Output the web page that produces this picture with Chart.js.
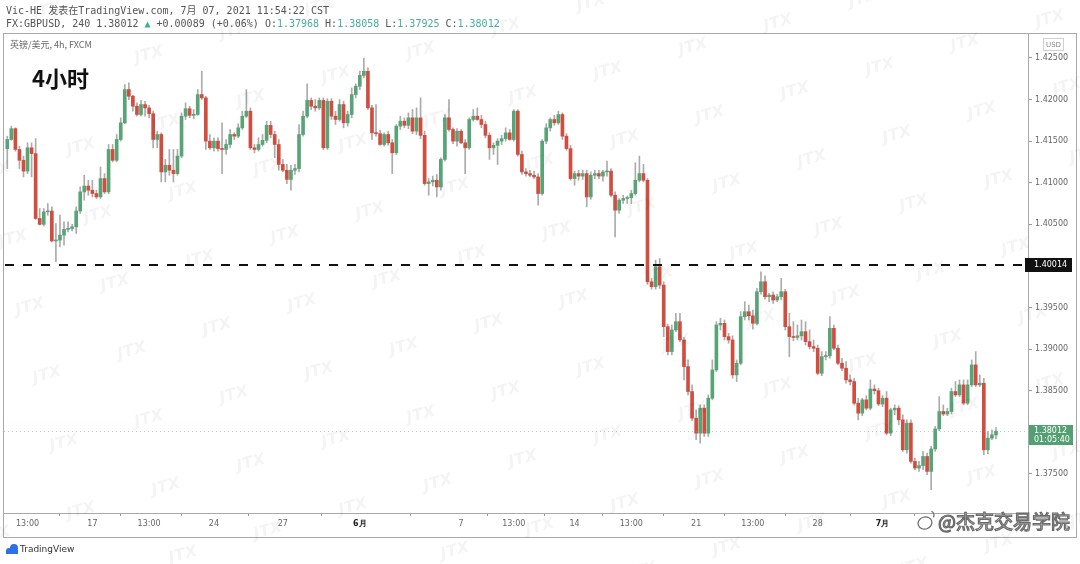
<!DOCTYPE html>
<html>
<head>
<meta charset="utf-8">
<script src="https://cdn.jsdelivr.net/npm/chart.js@4.4.0/dist/chart.umd.min.js"></script>
<style>
  html, body { margin: 0; padding: 0; background: #fff; }
  #wrap { width: 1080px; height: 564px; position: relative; }
</style>
</head>
<body>
<div id="wrap"><canvas id="chart" width="1080" height="564"></canvas></div>
<script>
// GBPUSD 4h candles (FXCM)
const opens = [
  1.4141,1.4152,1.4165,1.4140,1.4127,1.4114,1.4142,1.4135,1.4057,1.4050,
  1.4065,1.4066,1.4030,1.4031,1.4037,1.4044,1.4045,1.4047,1.4066,1.4089,
  1.4096,1.4091,1.4087,1.4083,1.4105,1.4089,1.4140,1.4127,1.4152,1.4172,
  1.4212,1.4204,1.4192,1.4182,1.4194,1.4190,1.4183,1.4152,1.4158,1.4113,
  1.4121,1.4115,1.4111,1.4132,1.4180,1.4189,1.4181,1.4182,1.4206,1.4202,
  1.4150,1.4142,1.4150,1.4141,1.4140,1.4146,1.4158,1.4156,1.4166,1.4180,
  1.4186,1.4142,1.4140,1.4146,1.4151,1.4169,1.4158,1.4146,1.4122,1.4115,
  1.4104,1.4115,1.4117,1.4158,1.4180,1.4199,1.4192,1.4190,1.4199,1.4142,
  1.4198,1.4180,1.4176,1.4194,1.4172,1.4182,1.4206,1.4216,1.4229,1.4234,
  1.4190,1.4160,1.4159,1.4146,1.4158,1.4148,1.4136,1.4168,1.4174,1.4169,
  1.4178,1.4162,1.4178,1.4157,1.4099,1.4101,1.4103,1.4095,1.4128,1.4178,
  1.4164,1.4150,1.4162,1.4148,1.4142,1.4176,1.4180,1.4176,1.4170,1.4157,
  1.4142,1.4145,1.4150,1.4153,1.4160,1.4152,1.4186,1.4134,1.4113,1.4111,
  1.4109,1.4107,1.4087,1.4150,1.4166,1.4176,1.4172,1.4182,1.4156,1.4141,
  1.4105,1.4111,1.4108,1.4111,1.4083,1.4109,1.4111,1.4108,1.4113,1.4114,
  1.4085,1.4067,1.4079,1.4081,1.4082,1.4087,1.4103,1.4111,1.4103,1.3981,
  1.3975,1.3999,1.3977,1.3927,1.3897,1.3923,1.3933,1.3911,1.3879,1.3849,
  1.3817,1.3799,1.3829,1.3799,1.3841,1.3875,1.3929,1.3931,1.3915,1.3911,
  1.3869,1.3883,1.3939,1.3945,1.3940,1.3931,1.3969,1.3981,1.3963,1.3965,
  1.3959,1.3963,1.3969,1.3927,1.3915,1.3914,1.3916,1.3921,1.3909,1.3903,
  1.3901,1.3871,1.3891,1.3892,1.3925,1.3901,1.3883,1.3877,1.3863,1.3861,
  1.3835,1.3823,1.3839,1.3829,1.3852,1.3850,1.3834,1.3841,1.3799,1.3827,
  1.3829,1.3815,1.3779,1.3811,1.3765,1.3757,1.3760,1.3771,1.3753,1.3780,
  1.3804,1.3825,1.3822,1.3825,1.3849,1.3845,1.3857,1.3835,1.3857,1.3881,
  1.3857,1.3859,1.3779,1.3793,1.37968
];
const highs = [
  1.4156,1.4168,1.4166,1.4144,1.4132,1.4148,1.4148,1.4153,1.4069,1.4069,
  1.4075,1.4071,1.4051,1.4061,1.4053,1.4053,1.4050,1.4071,1.4095,1.4109,
  1.4103,1.4103,1.4091,1.4119,1.4111,1.4146,1.4146,1.4158,1.4178,1.4218,
  1.4220,1.4205,1.4196,1.4199,1.4198,1.4193,1.4186,1.4162,1.4160,1.4128,
  1.4140,1.4140,1.4140,1.4184,1.4196,1.4192,1.4188,1.4212,1.4234,1.4204,
  1.4158,1.4154,1.4154,1.4172,1.4152,1.4164,1.4160,1.4171,1.4186,1.4212,
  1.4190,1.4146,1.4154,1.4158,1.4174,1.4174,1.4162,1.4152,1.4128,1.4122,
  1.4121,1.4122,1.4170,1.4186,1.4219,1.4202,1.4200,1.4202,1.4202,1.4201,
  1.4201,1.4186,1.4200,1.4198,1.4186,1.4214,1.4219,1.4234,1.4250,1.4238,
  1.4193,1.4194,1.4163,1.4160,1.4162,1.4152,1.4170,1.4180,1.4178,1.4184,
  1.4188,1.4190,1.4202,1.4162,1.4105,1.4108,1.4110,1.4130,1.4182,1.4200,
  1.4166,1.4165,1.4164,1.4152,1.4178,1.4188,1.4190,1.4181,1.4174,1.4160,
  1.4148,1.4153,1.4157,1.4166,1.4164,1.4188,1.4188,1.4138,1.4117,1.4115,
  1.4114,1.4111,1.4152,1.4171,1.4178,1.4181,1.4186,1.4184,1.4159,1.4145,
  1.4114,1.4115,1.4115,1.4115,1.4113,1.4115,1.4115,1.4115,1.4126,1.4117,
  1.4089,1.4081,1.4085,1.4084,1.4091,1.4124,1.4132,1.4122,1.4105,1.3985,
  1.4007,1.4009,1.3981,1.3930,1.3929,1.3943,1.3943,1.3914,1.3887,1.3857,
  1.3827,1.3833,1.3833,1.3845,1.3887,1.3933,1.3937,1.3935,1.3919,1.3916,
  1.3887,1.3945,1.3957,1.3953,1.3947,1.3973,1.3993,1.3988,1.3967,1.3969,
  1.3966,1.3985,1.3972,1.3943,1.3933,1.3929,1.3935,1.3933,1.3923,1.3911,
  1.3905,1.3897,1.3897,1.3939,1.3929,1.3905,1.3889,1.3885,1.3869,1.3865,
  1.3841,1.3841,1.3844,1.3863,1.3857,1.3853,1.3844,1.3849,1.3829,1.3833,
  1.3832,1.3821,1.3815,1.3815,1.3769,1.3765,1.3777,1.3775,1.3783,1.3807,
  1.3843,1.3833,1.3829,1.3853,1.3861,1.3863,1.3863,1.3863,1.3887,1.3897,
  1.3869,1.3865,1.3801,1.3803,1.38058
];
const lows = [
  1.4117,1.4151,1.4138,1.4117,1.4107,1.4111,1.4107,1.4056,1.4049,1.4048,
  1.4061,1.4029,1.4005,1.4023,1.4025,1.4041,1.4042,1.4039,1.4063,1.4079,
  1.4085,1.4083,1.4081,1.4081,1.4087,1.4087,1.4125,1.4125,1.4150,1.4171,
  1.4200,1.4186,1.4180,1.4180,1.4180,1.4178,1.4142,1.4142,1.4101,1.4101,
  1.4109,1.4101,1.4109,1.4130,1.4176,1.4178,1.4177,1.4181,1.4200,1.4140,
  1.4140,1.4138,1.4138,1.4111,1.4134,1.4142,1.4152,1.4154,1.4164,1.4178,
  1.4140,1.4136,1.4138,1.4144,1.4148,1.4154,1.4130,1.4115,1.4113,1.4099,
  1.4091,1.4110,1.4113,1.4156,1.4178,1.4188,1.4186,1.4188,1.4140,1.4140,
  1.4176,1.4170,1.4174,1.4166,1.4168,1.4178,1.4202,1.4212,1.4226,1.4188,
  1.4152,1.4156,1.4145,1.4144,1.4145,1.4111,1.4134,1.4164,1.4166,1.4165,
  1.4159,1.4158,1.4153,1.4097,1.4085,1.4096,1.4083,1.4091,1.4126,1.4162,
  1.4147,1.4144,1.4147,1.4111,1.4140,1.4174,1.4175,1.4166,1.4154,1.4128,
  1.4134,1.4122,1.4146,1.4150,1.4151,1.4150,1.4132,1.4110,1.4108,1.4107,
  1.4105,1.4073,1.4085,1.4147,1.4162,1.4169,1.4170,1.4152,1.4139,1.4103,
  1.4097,1.4103,1.4104,1.4071,1.4080,1.4105,1.4105,1.4102,1.4108,1.4083,
  1.4035,1.4063,1.4075,1.4075,1.4075,1.4085,1.4101,1.4101,1.3978,1.3972,
  1.3972,1.3973,1.3915,1.3893,1.3893,1.3921,1.3909,1.3863,1.3845,1.3814,
  1.3791,1.3787,1.3795,1.3795,1.3839,1.3873,1.3923,1.3911,1.3907,1.3865,
  1.3861,1.3881,1.3935,1.3935,1.3924,1.3929,1.3966,1.3960,1.3957,1.3955,
  1.3957,1.3959,1.3923,1.3891,1.3910,1.3911,1.3911,1.3905,1.3900,1.3897,
  1.3869,1.3868,1.3887,1.3889,1.3899,1.3881,1.3874,1.3859,1.3857,1.3833,
  1.3815,1.3820,1.3827,1.3827,1.3846,1.3832,1.3831,1.3797,1.3796,1.3821,
  1.3809,1.3777,1.3775,1.3763,1.3755,1.3753,1.3755,1.3749,1.3731,1.3777,
  1.3802,1.3820,1.3820,1.3822,1.3843,1.3843,1.3833,1.3833,1.3855,1.3855,
  1.3855,1.3773,1.3774,1.3791,1.37925
];
const closes = [
  1.4152,1.4165,1.4140,1.4127,1.4114,1.4142,1.4135,1.4057,1.4050,1.4065,
  1.4066,1.4030,1.4031,1.4037,1.4044,1.4045,1.4047,1.4066,1.4089,1.4096,
  1.4091,1.4087,1.4083,1.4105,1.4089,1.4140,1.4127,1.4152,1.4172,1.4212,
  1.4204,1.4192,1.4182,1.4194,1.4190,1.4183,1.4152,1.4158,1.4113,1.4121,
  1.4115,1.4111,1.4132,1.4180,1.4189,1.4181,1.4182,1.4206,1.4202,1.4150,
  1.4142,1.4150,1.4141,1.4140,1.4146,1.4158,1.4156,1.4166,1.4180,1.4186,
  1.4142,1.4140,1.4146,1.4151,1.4169,1.4158,1.4146,1.4122,1.4115,1.4104,
  1.4115,1.4117,1.4158,1.4180,1.4199,1.4192,1.4190,1.4199,1.4142,1.4198,
  1.4180,1.4176,1.4194,1.4172,1.4182,1.4206,1.4216,1.4229,1.4234,1.4190,
  1.4160,1.4159,1.4146,1.4158,1.4148,1.4136,1.4168,1.4174,1.4169,1.4178,
  1.4162,1.4178,1.4157,1.4099,1.4101,1.4103,1.4095,1.4128,1.4178,1.4164,
  1.4150,1.4162,1.4148,1.4142,1.4176,1.4180,1.4176,1.4170,1.4157,1.4142,
  1.4145,1.4150,1.4153,1.4160,1.4152,1.4186,1.4134,1.4113,1.4111,1.4109,
  1.4107,1.4087,1.4150,1.4166,1.4176,1.4172,1.4182,1.4156,1.4141,1.4105,
  1.4111,1.4108,1.4111,1.4083,1.4109,1.4111,1.4108,1.4113,1.4114,1.4085,
  1.4067,1.4079,1.4081,1.4082,1.4087,1.4103,1.4111,1.4103,1.3981,1.3975,
  1.3999,1.3977,1.3927,1.3897,1.3923,1.3933,1.3911,1.3879,1.3849,1.3817,
  1.3799,1.3829,1.3799,1.3841,1.3875,1.3929,1.3931,1.3915,1.3911,1.3869,
  1.3883,1.3939,1.3945,1.3940,1.3931,1.3969,1.3981,1.3963,1.3965,1.3959,
  1.3963,1.3969,1.3927,1.3915,1.3914,1.3916,1.3921,1.3909,1.3903,1.3901,
  1.3871,1.3891,1.3892,1.3925,1.3901,1.3883,1.3877,1.3863,1.3861,1.3835,
  1.3823,1.3839,1.3829,1.3852,1.3850,1.3834,1.3841,1.3799,1.3827,1.3829,
  1.3815,1.3779,1.3811,1.3765,1.3757,1.3760,1.3771,1.3753,1.3780,1.3804,
  1.3825,1.3822,1.3825,1.3849,1.3845,1.3857,1.3835,1.3857,1.3881,1.3857,
  1.3859,1.3779,1.3793,1.3797,1.38012
];

// x axis: candle number where a date/time label sits, and its text
const tickIndex = [6, 22, 36, 52, 69, 88, 113, 126, 141, 155, 171, 185, 201, 217];
const tickText = ['13:00', '17', '13:00', '24', '27', '6月', '7', '13:00', '14', '13:00', '21', '13:00', '28', '7月'];

// y axis price labels
const priceTicks = [1.375, 1.380, 1.385, 1.390, 1.395, 1.400, 1.405, 1.410, 1.415, 1.420, 1.425];

const levelPrice = 1.40014;   // dashed horizontal level
const lastPrice = 1.38012;
const countdown = '01:05:40';

const upColor = '#58a476';
const downColor = '#d24c3f';
const wickColor = '#ababab';
const teal = '#45ad9d';
const axisFont = "'DejaVu Sans', sans-serif";
const monoFont = "'DejaVu Sans Mono', 'Noto Sans CJK SC', monospace";
const cjkFont = "'Noto Sans CJK SC', 'DejaVu Sans', sans-serif";

const candleNo = closes.map((_, i) => i + 1);
const wickData = candleNo.map((x, i) => ({ x: x, y: [lows[i], highs[i]] }));
const bodyData = candleNo.map((x, i) => ({ x: x, y: [opens[i], closes[i]] }));
const bodyColors = candleNo.map((_, i) => closes[i] >= opens[i] ? upColor : downColor);

// everything around the plot: header, frame, level line, price tags, watermarks
const decor = {
    id: 'decor',
    beforeDraw(chart) {
        const c = chart.ctx;
        c.save();
        c.fillStyle = '#fff';
        c.fillRect(0, 0, chart.width, chart.height);
        c.restore();
    },
    afterDatasetsDraw(chart) {
        const c = chart.ctx;
        const a = chart.chartArea;
        const y = chart.scales.y;
        c.save();
        // last price dotted line
        const yl = Math.round(y.getPixelForValue(lastPrice)) + 0.5;
        c.strokeStyle = 'rgba(69,173,157,0.5)';
        c.lineWidth = 1;
        c.setLineDash([1, 3]);
        c.beginPath(); c.moveTo(a.left, yl); c.lineTo(a.right, yl); c.stroke();
        // dashed level
        const yd = Math.round(y.getPixelForValue(levelPrice));
        c.strokeStyle = '#111';
        c.lineWidth = 2;
        c.setLineDash([9, 9]);
        c.beginPath(); c.moveTo(a.left + 1, yd); c.lineTo(a.right, yd); c.stroke();
        c.restore();
    },
    afterDraw(chart) {
        const c = chart.ctx;
        const a = chart.chartArea;
        const y = chart.scales.y;
        c.save();

        // frame
        c.strokeStyle = '#a9a9a9';
        c.lineWidth = 1;
        c.strokeRect(3.5, a.top + 0.5, 1073, 504);

        // header
        c.textBaseline = 'middle';
        c.textAlign = 'left';
        c.font = '10px ' + monoFont;
        c.fillStyle = '#555';
        c.fillText('Vic-HE 发表在TradingView.com, 7月 07, 2021 11:54:22 CST', 6, 11);
        const parts = [
            ['FX:GBPUSD, 240 1.38012 ', '#555'], ['▲', teal], [' +0.00089 (+0.06%) ', '#555'],
            ['O:', '#555'], ['1.37968', teal], [' H:', '#555'], ['1.38058', teal],
            [' L:', '#555'], ['1.37925', teal], [' C:', '#555'], ['1.38012', teal]
        ];
        let px = 6;
        parts.forEach(p => {
            c.fillStyle = p[1];
            c.fillText(p[0], px, 24);
            px += c.measureText(p[0]).width;
        });

        // symbol line and title
        c.font = '9px ' + cjkFont;
        c.fillStyle = '#666';
        c.fillText('英镑/美元, 4h, FXCM', 10, 45);
        c.font = 'bold 22px ' + cjkFont;
        c.fillStyle = '#111';
        c.fillText('4小时', 32, 79);

        // currency tag on the price axis
        c.strokeStyle = '#d0d0d0';
        c.strokeRect(1043.5, 38.5, 20, 12);
        c.font = '7px ' + axisFont;
        c.fillStyle = '#888';
        c.textAlign = 'center';
        c.fillText('USD', 1053.5, 45);

        // level tag
        const yd = Math.round(y.getPixelForValue(levelPrice));
        c.fillStyle = '#111';
        c.fillRect(1025, yd - 7, 47, 14);
        c.fillStyle = '#fff';
        c.font = '8px ' + axisFont;
        c.textAlign = 'left';
        c.fillText(levelPrice.toFixed(5), 1034, yd);

        // last price tag
        const yl = Math.round(y.getPixelForValue(lastPrice));
        c.fillStyle = '#53a073';
        c.fillRect(1029, yl - 6, 44, 20);
        c.fillStyle = '#fff';
        c.fillText(lastPrice.toFixed(5), 1034, yl);
        c.fillText(countdown, 1034, yl + 9);

        // TradingView logo
        c.fillStyle = '#2f6fe4';
        c.beginPath();
        c.arc(9, 551, 3, 0, Math.PI * 2);
        c.arc(14, 548, 4, 0, Math.PI * 2);
        c.fill();
        c.fillRect(6, 550, 12, 4);
        c.fillStyle = '#333';
        c.font = '9px ' + axisFont;
        c.fillText('TradingView', 20, 550);

        // JTX watermark lattice
        c.font = 'italic bold 16px ' + axisFont;
        c.fillStyle = 'rgba(0,0,0,0.045)';
        c.textAlign = 'center';
        for (let i = -16; i <= 16; i++) {
            for (let k = -10; k <= 10; k++) {
                const wx = 727 + 85 * i + 17 * k;
                const wy = 183 - 24 * i + 68 * k;
                if (wx < -40 || wx > 1120 || wy < -20 || wy > 600) continue;
                c.save();
                c.translate(wx, wy);
                c.rotate(-0.27);
                c.fillText('JTX', 0, 0);
                c.restore();
            }
        }

        // repost watermark
        c.textAlign = 'left';
        c.font = '19px ' + cjkFont;
        c.lineWidth = 1.2;
        c.strokeStyle = '#6a6a6a';
        c.fillStyle = '#fff';
        c.fillText('@杰克交易学院', 938, 522);
        c.strokeText('@杰克交易学院', 938, 522);
        c.beginPath();
        c.ellipse(925, 523, 7, 6, -0.3, 0, Math.PI * 2);
        c.stroke();
        c.beginPath();
        c.arc(930, 515, 4, -1.2, 0.6);
        c.stroke();

        c.restore();
    }
};

new Chart(document.getElementById('chart'), {
    type: 'bar',
    data: {
        datasets: [
            { data: wickData, backgroundColor: wickColor, barThickness: 1, grouped: false, order: 2 },
            { data: bodyData, backgroundColor: bodyColors, barThickness: 3, minBarLength: 1, grouped: false, order: 1 }
        ]
    },
    options: {
        responsive: false,
        animation: false,
        layout: { padding: { left: 4, top: 33, right: 3, bottom: 27 } },
        plugins: { legend: { display: false }, tooltip: { enabled: false } },
        scales: {
            x: {
                type: 'linear',
                min: 0.19,
                max: 252.9,
                offset: false,
                afterBuildTicks: s => { s.ticks = tickIndex.map(v => ({ value: v })); },
                afterFit: s => { s.height = 24; },
                grid: { drawOnChartArea: false, drawTicks: true, tickLength: 3, color: '#9a9a9a' },
                border: { display: true, color: '#a9a9a9' },
                ticks: {
                    autoSkip: false,
                    maxRotation: 0,
                    padding: 3,
                    color: ctx => /月/.test(tickText[ctx.index]) ? '#222' : '#666',
                    font: ctx => ({ family: axisFont, size: 8, weight: /月/.test(tickText[ctx.index]) ? 'bold' : 'normal' }),
                    callback: (v, i) => tickText[i]
                }
            },
            y: {
                position: 'right',
                min: 1.3703,
                max: 1.4280,
                afterBuildTicks: s => { s.ticks = priceTicks.map(v => ({ value: v })); },
                afterFit: s => { s.width = 49; },
                grid: { drawOnChartArea: false, drawTicks: true, tickLength: 4, color: '#9a9a9a' },
                border: { display: true, color: '#a9a9a9' },
                ticks: {
                    padding: 3,
                    color: '#666',
                    font: { family: axisFont, size: 8 },
                    callback: v => v.toFixed(5)
                }
            }
        }
    },
    plugins: [decor]
});
</script>
</body>
</html>
